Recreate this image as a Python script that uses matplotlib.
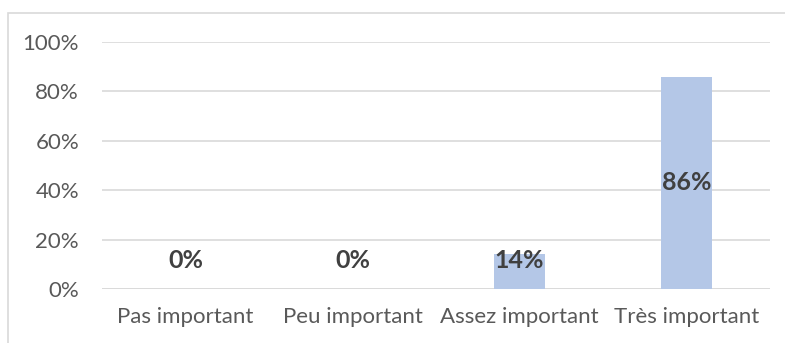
import matplotlib.pyplot as plt
from matplotlib.patches import Rectangle
from matplotlib.ticker import FuncFormatter

categories = ["Pas important", "Peu important", "Assez important", "Très important"]
shares = [0.0, 0.0, 0.14, 0.86]
labels = ["0%", "0%", "14%", "86%"]

plt.rcParams['font.family'] = ['Lato', 'DejaVu Sans']

fig = plt.figure(figsize=(7.85, 3.43), dpi=100)
W, H = 785, 343
ax = fig.add_axes([102 / W, 1 - 289 / H, 668 / W, 247 / H])

x = range(len(categories))
ax.bar(x, shares, width=0.31, color="#B4C7E7", zorder=2)

for i, (v, txt) in enumerate(zip(shares, labels)):
    y = v / 2 if v > 0.3 else 0.115
    ax.text(i, y, txt, ha="center", va="center", fontsize=18,
            fontweight="bold", color="#404040", zorder=3)

ax.set_xlim(-0.5, len(categories) - 0.5)
ax.set_ylim(0, 1.0)
ax.set_yticks([0, 0.2, 0.4, 0.6, 0.8, 1.0])
ax.yaxis.set_major_formatter(FuncFormatter(lambda v, p: f"{v * 100:.0f}%"))
ax.set_xticks(list(x))
ax.set_xticklabels(categories)
ax.tick_params(length=0, labelsize=16, colors="#595959")
ax.tick_params(axis="y", pad=16.5)
ax.tick_params(axis="x", pad=13)
ax.grid(axis="y", color="#D9D9D9", linewidth=1.2, zorder=0)
for s in ax.spines.values():
    s.set_visible(False)
ax.axhline(0, color="#D9D9D9", linewidth=1.2, zorder=1)

# chart frame
fig.patches.append(Rectangle((8 / W, -0.1), 1.1, 1 - 13 / H + 0.1,
                             transform=fig.transFigure, fill=False,
                             edgecolor="#D9D9D9", linewidth=1.2))

fig.savefig("out.png", dpi=100)
